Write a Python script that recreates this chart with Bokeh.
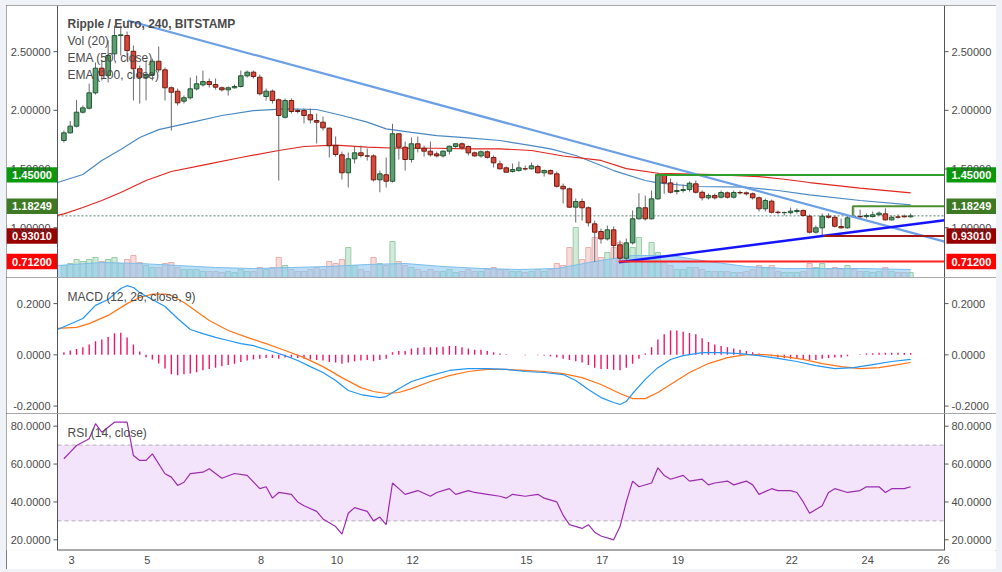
import numpy as np
from bokeh.plotting import figure
from bokeh.models import (Range1d, Label, Span, FixedTicker, BoxAnnotation, ColumnDataSource)
from bokeh.layouts import column
from bokeh.embed import file_html
from bokeh.resources import INLINE

# ---------------- data (XRP/EUR, 4h candles, January) ----------------
FIRST_T = 2.80          # day-of-month of first candle
STEP = 1 / 6            # 4 hours
day_ticks = [3, 5, 8, 10, 12, 15, 17, 19, 22, 24, 26]

opens = [1.743,1.808,1.865,1.984,2.018,2.149,2.359,2.296,2.481,2.637,
         2.637,2.503,2.354,2.279,2.305,2.418,2.345,2.192,2.163,2.078,
         2.107,2.183,2.217,2.245,2.220,2.192,2.175,2.192,2.203,2.294,
         2.325,2.282,2.118,2.163,2.090,1.941,2.084,1.998,1.998,1.962,
         1.913,1.899,1.848,1.700,1.621,1.468,1.587,1.638,1.612,1.612,
         1.408,1.451,1.396,1.800,1.686,1.581,1.715,1.677,1.652,1.629,
         1.612,1.652,1.692,1.715,1.692,1.638,1.612,1.647,1.598,1.544,
         1.510,1.479,1.487,1.502,1.502,1.521,1.468,1.487,1.459,1.353,
         1.331,1.175,1.223,1.170,1.033,0.968,0.905,0.982,0.854,0.740,
         0.871,1.076,1.170,1.076,1.246,1.453,1.382,1.308,1.317,1.325,
         1.374,1.302,1.255,1.274,1.260,1.297,1.260,1.300,1.297,1.289,
         1.255,1.161,1.226,1.132,1.128,1.128,1.138,1.147,1.098,0.962,
         0.999,1.098,1.089,1.010,0.999,1.096,1.095,1.095,1.095,1.110,
         1.118,1.067,1.092,1.098,1.093]
closes = [1.808,1.865,1.984,2.021,2.149,2.359,2.296,2.467,2.637,2.643,
          2.509,2.354,2.282,2.305,2.418,2.345,2.192,2.154,2.064,2.107,
          2.183,2.226,2.245,2.220,2.197,2.175,2.192,2.203,2.294,2.325,
          2.288,2.141,2.163,2.084,1.956,2.084,1.990,1.990,1.956,1.919,
          1.899,1.851,1.698,1.624,1.468,1.587,1.638,1.615,1.610,1.408,
          1.459,1.396,1.800,1.686,1.581,1.715,1.677,1.652,1.621,1.612,
          1.652,1.694,1.715,1.681,1.638,1.612,1.647,1.600,1.553,1.502,
          1.473,1.496,1.510,1.501,1.527,1.468,1.487,1.459,1.353,1.331,
          1.175,1.223,1.170,1.042,0.962,0.905,0.982,0.848,0.740,0.871,
          1.076,1.170,1.076,1.246,1.453,1.382,1.302,1.317,1.325,1.379,
          1.302,1.255,1.274,1.255,1.300,1.260,1.300,1.297,1.289,1.255,
          1.161,1.232,1.132,1.130,1.130,1.141,1.147,1.104,0.962,0.999,
          1.098,1.089,1.013,0.999,1.084,1.094,1.093,1.104,1.110,1.124,
          1.067,1.089,1.090,1.093,1.101]
highs = [1.828,1.907,2.089,2.041,2.228,2.407,2.424,2.595,2.722,2.722,
         2.671,2.552,2.382,2.424,2.441,2.544,2.365,2.203,2.186,2.126,
         2.279,2.296,2.339,2.271,2.271,2.203,2.203,2.220,2.339,2.339,
         2.339,2.305,2.186,2.177,2.101,2.101,2.101,2.015,2.015,2.015,
         1.973,1.947,1.854,1.777,1.649,1.641,1.692,1.700,1.675,1.624,
         1.487,1.598,1.885,1.802,1.734,1.768,1.777,1.700,1.734,1.649,
         1.658,1.700,1.717,1.726,1.700,1.649,1.658,1.658,1.615,1.572,
         1.521,1.547,1.564,1.530,1.555,1.538,1.496,1.496,1.479,1.376,
         1.342,1.249,1.249,1.181,1.061,0.993,1.019,1.010,0.891,0.908,
         1.147,1.294,1.274,1.317,1.470,1.462,1.419,1.385,1.368,1.394,
         1.402,1.317,1.291,1.291,1.317,1.308,1.317,1.317,1.308,1.300,
         1.266,1.249,1.240,1.147,1.138,1.172,1.164,1.155,1.113,1.019,
         1.121,1.121,1.104,1.078,1.104,1.175,1.155,1.121,1.138,1.138,
         1.166,1.104,1.113,1.113,1.121]
lows = [1.726,1.802,1.854,1.973,2.007,2.135,2.254,2.237,2.424,2.467,
        2.424,2.084,2.058,2.084,2.254,2.322,2.084,1.828,2.041,2.058,
        2.092,2.169,2.203,2.194,2.177,2.160,2.126,2.186,2.194,2.279,
        2.271,2.126,2.084,2.058,1.402,1.930,1.973,1.973,1.888,1.888,
        1.717,1.828,1.598,1.606,1.411,1.342,1.547,1.598,1.572,1.394,
        1.302,1.342,1.385,1.581,1.487,1.555,1.641,1.606,1.606,1.598,
        1.598,1.624,1.675,1.666,1.615,1.606,1.598,1.589,1.513,1.496,
        1.470,1.470,1.479,1.487,1.496,1.462,1.436,1.453,1.342,1.206,
        1.172,1.044,1.061,1.010,0.706,0.865,0.891,0.738,0.704,0.721,
        0.857,1.070,1.061,1.070,1.240,1.291,1.291,1.283,1.300,1.308,
        1.291,1.232,1.240,1.240,1.249,1.249,1.249,1.283,1.274,1.240,
        1.138,1.138,1.121,1.113,1.104,1.113,1.121,1.095,0.951,0.951,
        0.934,1.078,1.002,0.993,0.993,1.087,1.078,1.078,1.087,1.104,
        1.061,1.061,1.078,1.087,1.087]
volumes = [12,14,18,16,18,20,16,18,20,14,
           18,22,15,12,10,10,14,15,10,8,
           8,8,6,6,6,5,6,5,8,6,
           6,10,8,10,20,12,8,6,6,8,
           10,8,16,14,18,30,12,8,6,20,
           14,12,36,16,12,10,8,6,8,6,
           6,8,5,6,8,6,6,8,10,8,
           8,6,6,5,6,8,6,8,14,12,
           30,50,18,30,40,20,25,30,35,20,
           30,40,20,35,25,15,12,8,8,10,
           10,8,6,6,6,6,5,5,6,8,
           12,10,12,6,5,5,5,6,14,10,
           14,8,10,8,12,8,6,6,5,6,
           10,6,5,5,5]
VOL_TOP = 272

volma_k = [-1,6,12,18,24,30,36,42,48,54,60,66,72,78,84,90,96,102,108,114,120,126,134]
volma_v = [12,15,14,12,10,9,10,11,13,14,11,9,8,9,16,22,22,16,11,9,9,9,8]

ema50_k = [-1,0,3,6,9,12,15,20,25,30,35,40,44,48,51,55,59,64,69,74,77,81,85,87,92,94,100,108,113,118,126,134]
ema50_v = [1.385,1.402,1.453,1.572,1.666,1.768,1.836,1.896,1.956,1.998,2.013,2.007,1.956,1.899,1.842,1.813,
           1.785,1.766,1.743,1.700,1.672,1.615,1.530,1.487,1.402,1.382,1.351,1.345,1.317,1.280,1.232,1.195]
ema100_k = [-1,0,3,6,9,13,17,22,28,34,38,43,48,53,59,64,69,74,79,85,89,94,103,110,114,118,126,134]
ema100_v = [1.105,1.118,1.172,1.232,1.300,1.402,1.479,1.534,1.598,1.658,1.692,1.704,1.686,1.677,1.677,
            1.672,1.672,1.658,1.611,1.573,1.504,1.464,1.453,1.436,1.413,1.385,1.338,1.297]

# drawings
light_trend_t = [4.48, 26.026]
light_trend_p = [2.765, 0.882]
blue_trend_t = [17.44, 26.026]
blue_trend_p = [0.706, 1.064]
level_prices = [1.45000, 1.18249, 0.93010, 0.71200]
level_start = [18.40, 23.60, 22.84, 17.43]
level_line_colors = ["#2f9e2f", "#4b8f2f", "#a31616", "#ff2020"]
level_tag_colors = ["#089a0b", "#3d7a23", "#990000", "#ff0000"]

# MACD
macd_k = [-1,3,5,7,9,10,11,12,14,16,18,20,22,24,26,28,30,33,35,37,39,41,43,45,47,50,51,53,55,58,61,64,67,
          70,73,76,79,81,83,85,87,88,89,90,92,94,96,98,101,104,107,110,113,116,119,122,125,128,131,134]
macd_v = [0.099,0.142,0.193,0.216,0.259,0.270,0.263,0.243,0.216,0.189,0.142,0.099,0.083,0.068,0.056,0.044,
          0.036,0.013,-0.003,-0.022,-0.046,-0.069,-0.100,-0.139,-0.155,-0.167,-0.163,-0.132,-0.104,-0.081,
          -0.061,-0.054,-0.054,-0.057,-0.065,-0.069,-0.077,-0.100,-0.135,-0.167,-0.186,-0.194,-0.182,-0.151,
          -0.096,-0.050,-0.018,-0.003,0.009,0.009,0.005,-0.003,-0.014,-0.026,-0.042,-0.054,-0.050,-0.038,
          -0.026,-0.018]
signal_k = [-1,2,4,7,10,12,14,16,17,19,21,23,26,29,32,35,38,41,44,47,49,51,53,55,58,61,64,67,70,73,76,79,
            82,85,88,90,92,94,96,99,102,105,108,111,114,117,120,123,126,129,132,134]
signal_v = [0.103,0.107,0.122,0.154,0.200,0.224,0.237,0.237,0.232,0.204,0.169,0.134,0.095,0.068,0.044,0.017,
            -0.011,-0.046,-0.089,-0.128,-0.143,-0.151,-0.147,-0.132,-0.104,-0.081,-0.065,-0.057,-0.057,-0.061,
            -0.065,-0.073,-0.089,-0.116,-0.151,-0.171,-0.171,-0.147,-0.116,-0.069,-0.034,-0.011,0.001,0.001,
            -0.007,-0.018,-0.034,-0.046,-0.054,-0.050,-0.038,-0.030]
hist = [0.010,0.017,0.023,0.030,0.040,0.053,0.060,0.070,0.084,0.086,
        0.068,0.040,0.013,-0.009,-0.018,-0.034,-0.053,-0.076,-0.080,-0.076,
        -0.073,-0.068,-0.060,-0.055,-0.050,-0.045,-0.040,-0.035,-0.028,-0.022,
        -0.018,-0.015,-0.012,-0.012,-0.015,-0.010,-0.010,-0.012,-0.015,-0.018,
        -0.020,-0.022,-0.028,-0.030,-0.035,-0.030,-0.025,-0.022,-0.020,-0.025,
        -0.020,-0.015,0.010,0.015,0.015,0.025,0.028,0.030,0.030,0.030,
        0.032,0.035,0.035,0.030,0.025,0.020,0.020,0.015,0.010,0.005,
        0.002,0.000,0.000,-0.002,0.000,-0.002,-0.003,-0.005,-0.010,-0.015,
        -0.020,-0.025,-0.030,-0.040,-0.050,-0.055,-0.055,-0.058,-0.060,-0.050,
        -0.035,-0.015,0.005,0.030,0.060,0.080,0.095,0.095,0.090,0.085,
        0.080,0.065,0.050,0.040,0.035,0.030,0.025,0.020,0.015,0.010,
        0.005,0.000,-0.005,-0.010,-0.012,-0.015,-0.015,-0.018,-0.020,-0.020,
        -0.015,-0.012,-0.010,-0.010,-0.005,0.000,0.002,0.005,0.006,0.008,
        0.008,0.008,0.008,0.007,0.007]

# RSI
rsi_k = [0,1,2,4,5,6,8,10,11,12,13,14,16,17,18,19,20,22,23,25,27,29,31,32,33,34,36,37,38,40,41,43,44,
         45,46,48,49,50,51,52,53,54,56,58,59,61,62,64,65,67,69,70,71,73,75,76,78,79,80,82,83,84,85,87,
         88,89,90,91,93,94,95,96,98,99,101,102,103,105,106,108,109,110,112,113,115,116,117,118,120,121,
         122,124,126,127,129,130,131,133,134]
rsi_v = [62.8,66.3,69.8,73.4,81.3,76.8,82.1,82.1,64.5,61.9,61.9,65.4,54.9,53.1,48.7,50.4,54.9,55.7,57.5,
         52.5,55,54,47,48,42,45,44,40,38,35,31,27,23,34,37,35,30,32,28,50,47,44,46,43,45,47,44,46,45,44,
         43,42,44,43,44,42,40,33,28,26,28,24,22,20,27,40,51,48,50,58,54,52,54,51,52,49,50,51,49,51,49,44,
         47,46,46,45,40,34,38,45,47,45,46,48,48,45,47,47,48]

# ---------------- layout constants ----------------
AXIS_L, AXIS_R = 2.631, 26.026          # price-scale borders (days)
FIG_W = 990
AX_L_PX, AX_R_PX = 51, 938              # where the two price scales sit on the canvas
PPD = (AX_R_PX - AX_L_PX) / (AXIS_R - AXIS_L)
X_START = AXIS_L - AX_L_PX / PPD
X_END = AXIS_R + (FIG_W - AX_R_PX) / PPD
FONT = "Liberation Sans"
TXT = "#4a4a4a"
EDGE = "#555555"

def tk(ks):
    return [FIRST_T + k * STEP for k in ks]

n = len(opens)
t = [FIRST_T + i * STEP for i in range(n)]
XR = Range1d(X_START, X_END)

def make_fig(h, yr, bottom_border=0, xaxis=False):
    p = figure(width=FIG_W, height=h, x_range=XR, y_range=yr, output_backend="svg",
               toolbar_location=None, x_axis_location=("below" if xaxis else None),
               y_axis_location=None, min_border_left=0, min_border_right=0,
               min_border_top=0, min_border_bottom=bottom_border)
    p.background_fill_color = "white"
    p.border_fill_color = "white"
    p.outline_line_color = None
    p.grid.visible = False
    p.styles = {"outline": "1px solid #505050", "outline-offset": "-1px"}
    for loc in (AXIS_L, AXIS_R):
        p.add_layout(Span(location=loc, dimension="height", line_color=EDGE, line_width=1))
    return p

def price_scale(p, ticks, fmt):
    tick_len = 4 / PPD
    p.segment(x0=[AXIS_L - tick_len] * len(ticks), y0=ticks, x1=[AXIS_L] * len(ticks), y1=ticks,
              line_color=EDGE, line_width=1)
    p.segment(x0=[AXIS_R] * len(ticks), y0=ticks, x1=[AXIS_R + tick_len] * len(ticks), y1=ticks,
              line_color=EDGE, line_width=1)
    for v in ticks:
        txt = fmt.format(v)
        p.add_layout(Label(x=AXIS_L, y=v, x_offset=-7, text=txt, text_align="right",
                           text_baseline="middle", text_font=FONT, text_font_size="11px",
                           text_color=TXT))
        p.add_layout(Label(x=AXIS_R, y=v, x_offset=7, text=txt, text_align="left",
                           text_baseline="middle", text_font=FONT, text_font_size="11px",
                           text_color=TXT))

def title(p, text, y_top, dy, bold=False):
    p.add_layout(Label(x=AXIS_L, y=y_top, x_offset=10, y_offset=-dy, text=text,
                       text_baseline="top", text_align="left", text_font=FONT,
                       text_font_size="12px", text_color=TXT,
                       text_font_style=("bold" if bold else "normal")))

# ---------------- main price pane ----------------
Y1 = (0.576, 2.893)
H1 = 272
p1 = make_fig(H1, Range1d(*Y1))
p1.extra_y_ranges = {"vol": Range1d(0, VOL_TOP)}

up = [c >= o for o, c in zip(opens, closes)]
src = ColumnDataSource(dict(
    t=t, o=opens, c=closes, h=highs, l=lows, v=volumes,
    top=[max(o, c) for o, c in zip(opens, closes)],
    bot=[min(o, c) for o, c in zip(opens, closes)],
    fill=["#5e9f70" if u else "#d8483a" for u in up],
    line=["#1f5733" if u else "#6e1a10" for u in up],
    vfill=["#7cc492" if u else "#e89a9a" for u in up],
    vline=["#8fcaa0" if u else "#e6a8a8" for u in up],
))

p1.vbar(x="t", width=0.82 * STEP, top="v", bottom=0, fill_color="vfill", fill_alpha=0.35,
        line_color="vline", line_alpha=0.9, source=src, y_range_name="vol")
p1.varea(x=tk(volma_k), y1=0, y2=volma_v, fill_color="#8cc8f0", fill_alpha=0.6, y_range_name="vol")
p1.line(x=tk(volma_k), y=volma_v, line_color="#7dbdeb", line_width=1, y_range_name="vol")

p1.line(x=[AXIS_L, AXIS_R], y=[closes[-1], closes[-1]], line_color="#4f806f",
        line_dash="2 2", line_width=1)

p1.line(x=tk(ema50_k), y=ema50_v, line_color="#4a88c4", line_width=1.2)
p1.line(x=tk(ema100_k), y=ema100_v, line_color="#e0261e", line_width=1.2)

p1.segment(x0="t", y0="h", x1="t", y1="l", line_color="#6b6b6b", line_width=1, source=src)
p1.vbar(x="t", width=0.72 * STEP, top="top", bottom="bot", fill_color="fill",
        line_color="line", line_width=1, source=src)

p1.line(x=light_trend_t, y=light_trend_p, line_color="#6b9fe6", line_width=2.2)
p1.line(x=blue_trend_t, y=blue_trend_p, line_color="#1414ff", line_width=2.4)

for lp, ls, lc in zip(level_prices, level_start, level_line_colors):
    p1.line(x=[ls, AXIS_R], y=[lp, lp], line_color=lc, line_width=2)
p1.segment(x0=[level_start[1]], y0=[level_prices[1]], x1=[level_start[1]], y1=[closes[-1]],
           line_color=level_line_colors[1], line_width=1.5)

price_scale(p1, [1.0, 1.5, 2.0, 2.5], "{:.5f}")

# price tags on both scales
half_h = 7.7 * (Y1[1] - Y1[0]) / H1
p1.quad(left=[X_START] * 4, right=[AXIS_L] * 4,
        bottom=[lp - half_h for lp in level_prices], top=[lp + half_h for lp in level_prices],
        fill_color=level_tag_colors, line_color=None)
p1.quad(left=[AXIS_R + 2 / PPD] * 4, right=[X_END] * 4,
        bottom=[lp - half_h for lp in level_prices], top=[lp + half_h for lp in level_prices],
        fill_color=level_tag_colors, line_color=None)
for lp in level_prices:
    p1.add_layout(Label(x=(X_START + AXIS_L) / 2, y=lp, text=f"{lp:.5f}", text_color="white",
                        text_font=FONT, text_font_style="bold", text_font_size="11px",
                        text_baseline="middle", text_align="center"))
    p1.add_layout(Label(x=AXIS_R, y=lp, x_offset=7, text=f"{lp:.5f}", text_color="white",
                        text_font=FONT, text_font_style="bold", text_font_size="11px",
                        text_baseline="middle", text_align="left"))

title(p1, "Ripple / Euro, 240, BITSTAMP", Y1[1], 11.5, bold=True)
title(p1, "Vol (20)", Y1[1], 28.5)
title(p1, "EMA (50, close)", Y1[1], 45.5)
title(p1, "EMA (100, close)", Y1[1], 62.5)

# ---------------- MACD pane ----------------
Y2 = (-0.229, 0.302)
p2 = make_fig(136, Range1d(*Y2))
p2.segment(x0=t, y0=[0] * n, x1=t, y1=hist, line_color="#f0156b", line_width=1.4)
p2.line(x=tk(signal_k), y=signal_v, line_color="#ff7417", line_width=1.2)
p2.line(x=tk(macd_k), y=macd_v, line_color="#2196f3", line_width=1.2)
price_scale(p2, [-0.2, 0.0, 0.2], "{:.4f}")
title(p2, "MACD (12, 26, close, 9)", Y2[1], 12)

# ---------------- RSI pane ----------------
Y3 = (14.35, 86.7)
p3 = make_fig(156, Range1d(*Y3), bottom_border=19, xaxis=True)
p3.add_layout(BoxAnnotation(bottom=30, top=70, left=AXIS_L, right=AXIS_R, fill_color="#f3e4fb",
                            fill_alpha=1.0, line_color=None, level="underlay"))
for lv in (30, 70):
    p3.line(x=[AXIS_L, AXIS_R], y=[lv, lv], line_color="#b5adbb", line_dash="4 3", line_width=1)
p3.line(x=tk(rsi_k), y=rsi_v, line_color="#9c2bb0", line_width=1.2)
p3.line(x=[AXIS_L, AXIS_R], y=[Y3[0], Y3[0]], line_color=EDGE, line_width=2)
price_scale(p3, [20, 40, 60, 80], "{:.4f}")
title(p3, "RSI (14, close)", Y3[1], 12)

xa = p3.xaxis[0]
xa.ticker = FixedTicker(ticks=day_ticks)
xa.axis_line_color = None
xa.major_tick_out = 0
xa.major_tick_in = 0
xa.minor_tick_line_color = None
xa.major_label_text_font = FONT
xa.major_label_text_font_size = "11px"
xa.major_label_text_color = TXT
xa.major_label_standoff = 5

inner = column(p1, p2, p3, spacing=0)
root = column(inner, styles={"background-color": "#eff2f6", "padding": "5px 6px 3px 6px"})

open("out.html", "w").write(file_html(root, INLINE))
